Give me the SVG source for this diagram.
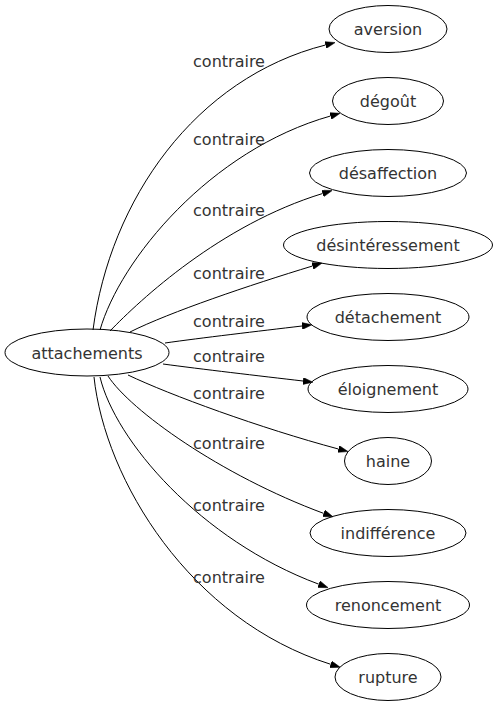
<svg xmlns="http://www.w3.org/2000/svg" width="498" height="707" viewBox="0 0 498 707">
<style>
text{font-family:"DejaVu Sans",sans-serif;font-size:16px;fill:#333;text-anchor:middle}
ellipse{fill:none;stroke:#000;stroke-width:1}
.e path{fill:none;stroke:#000;stroke-width:1}
</style>
<defs>
<marker id="ah" viewBox="0 0 10 7" refX="0" refY="3.5" markerWidth="10" markerHeight="7" markerUnits="userSpaceOnUse" orient="auto">
<path d="M0,0 L10,3.5 L0,7 z" fill="#000" stroke="#000" stroke-width="0.5"/>
</marker>
</defs>
<rect width="498" height="707" fill="#fff"/>
<g id="connectors" class="e">
<path marker-end="url(#ah)" d="M93,330 C110,200 195,78 325.5,45"/>
<path marker-end="url(#ah)" d="M100,330 C120,260 210,150 330.5,116"/>
<path marker-end="url(#ah)" d="M110,331 C140,300 220,225 322.6,193.5"/>
<path marker-end="url(#ah)" d="M130,332 C170,312 250,285 312.5,266"/>
<path marker-end="url(#ah)" d="M165,343 C200,338 260,331 302,326"/>
<path marker-end="url(#ah)" d="M163,364 C200,369 260,376 303,381"/>
<path marker-end="url(#ah)" d="M128,375 C170,395 260,428 338.4,449"/>
<path marker-end="url(#ah)" d="M108,376 C130,410 220,475 323.7,513.4"/>
<path marker-end="url(#ah)" d="M100,377 C115,440 200,540 318.8,584.2"/>
<path marker-end="url(#ah)" d="M94,377 C105,480 190,620 330.7,664.3"/>
<text x="229" y="67">contraire</text>
<text x="229" y="145">contraire</text>
<text x="229" y="216">contraire</text>
<text x="229" y="279">contraire</text>
<text x="229" y="327">contraire</text>
<text x="229" y="362">contraire</text>
<text x="229" y="399">contraire</text>
<text x="229" y="449">contraire</text>
<text x="229" y="511">contraire</text>
<text x="229" y="583">contraire</text>
</g>
<g id="attachements"><ellipse cx="87" cy="352.5" rx="82" ry="23.5"/><text x="87" y="358.5">attachements</text></g>
<g id="aversion"><ellipse cx="388" cy="29" rx="59" ry="23.5"/><text x="388" y="35">aversion</text></g>
<g id="degout"><ellipse cx="388" cy="101" rx="55.5" ry="23.5"/><text x="388" y="107">dégoût</text></g>
<g id="desaffection"><ellipse cx="388" cy="173" rx="78.5" ry="23.5"/><text x="388" y="179">désaffection</text></g>
<g id="desinteressement"><ellipse cx="388" cy="245" rx="104.5" ry="23.5"/><text x="388" y="251">désintéressement</text></g>
<g id="detachement"><ellipse cx="388" cy="317" rx="81" ry="23.5"/><text x="388" y="323">détachement</text></g>
<g id="eloignement"><ellipse cx="388" cy="389" rx="80" ry="23.5"/><text x="388" y="395">éloignement</text></g>
<g id="haine"><ellipse cx="388" cy="461" rx="43.5" ry="23.5"/><text x="388" y="467">haine</text></g>
<g id="indifference"><ellipse cx="388" cy="533" rx="78" ry="23.5"/><text x="388" y="539">indifférence</text></g>
<g id="renoncement"><ellipse cx="388" cy="605" rx="81.5" ry="23.5"/><text x="388" y="611">renoncement</text></g>
<g id="rupture"><ellipse cx="388" cy="677" rx="53" ry="23.5"/><text x="388" y="683">rupture</text></g>
</svg>
